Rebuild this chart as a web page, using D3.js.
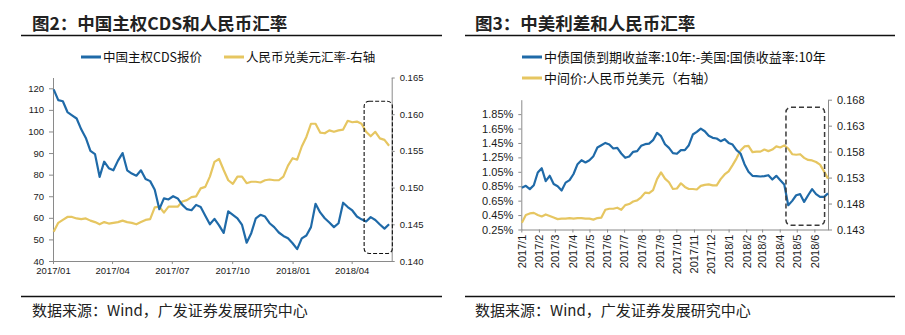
<!DOCTYPE html>
<html>
<head>
<meta charset="utf-8">
<script src="https://cdn.jsdelivr.net/npm/d3@7/dist/d3.min.js"></script>
<style>
  body { margin: 0; background: #fff; }
  svg { display: block; font-family: "Liberation Sans", Arial, sans-serif; }
  .cn { font-family: "Noto Sans CJK SC", sans-serif; }
  .axis path, .axis line { stroke: #8a8a8a; }
  .axis text { fill: #1a1a1a; }
</style>
</head>
<body>
<script>
// ---- 图2 data (weekly samples from 2017-01-02) ----
const leftStart = "2017-01-02";
const stepDays = 7;
const cdsQuote = [
  119.5, 114.5, 114, 109, 107.5, 106, 101, 97, 91, 89.5,
  79, 86, 83, 82, 86.5, 90, 82, 80.5, 79.5, 82,
  78, 77, 73, 64, 69, 68.5, 70, 69, 66, 64,
  63.5, 66, 65, 61, 57, 59.5, 56.5, 53, 63, 61.4,
  59.8, 56.7, 48.5, 52.9, 59.8, 61.4, 60.6, 57.5, 55.7, 53.2,
  51.6, 50.5, 48.2, 45.5, 50.5, 51.8, 55.7, 66.5, 62.5, 59.8,
  57.8, 55.7, 57.5, 67, 65, 63.4, 60.6, 59.3, 58.3, 60.3,
  59, 56.9, 55, 57
];
const cnyLeft = [
  0.1440, 0.1452, 0.1456, 0.1460, 0.1460, 0.1458, 0.1457, 0.1458, 0.1455, 0.1453,
  0.1450, 0.1453, 0.1451, 0.1452, 0.1453, 0.1455, 0.1453, 0.1452, 0.1450, 0.1453,
  0.1456, 0.1457, 0.1473, 0.1474, 0.1466, 0.1474, 0.1474, 0.1474, 0.1481, 0.1483,
  0.1487, 0.1488, 0.1499, 0.1501, 0.1515, 0.1535, 0.1539, 0.1524, 0.1510, 0.1505,
  0.1515, 0.1515, 0.1506, 0.1508, 0.1508, 0.1507, 0.1510, 0.1511, 0.1510, 0.1510,
  0.1515, 0.1530, 0.1540, 0.1538, 0.1556, 0.1569, 0.1587, 0.1587, 0.1575, 0.1574,
  0.1578, 0.1576, 0.1578, 0.1579, 0.1591, 0.1589, 0.1590, 0.1587, 0.1576, 0.1570,
  0.1576, 0.1567, 0.1565, 0.1557
];
const leftXTicks = ["2017-01-01", "2017-04-01", "2017-07-01", "2017-10-01", "2018-01-01", "2018-04-01"];
const leftYTicks = [40, 50, 60, 70, 80, 90, 100, 110, 120];
const leftY2Ticks = [0.140, 0.145, 0.150, 0.155, 0.160, 0.165];
const leftBox = ["2018-04-20", "2018-06-02", 114, 43.5];

// ---- 图3 data (weekly samples from 2017-01-02) ----
const rightStart = "2017-01-02";
const yieldSpread = [
  0.83, 0.855, 0.81, 0.864, 1.04, 1.10, 0.92, 0.995, 0.88, 0.85,
  0.79, 0.90, 0.934, 1.02, 1.156, 1.211, 1.18, 1.211, 1.267, 1.387,
  1.419, 1.451, 1.428, 1.373, 1.382, 1.304, 1.244, 1.262, 1.327, 1.336,
  1.41, 1.433, 1.442, 1.489, 1.59, 1.544, 1.433, 1.382, 1.31, 1.30,
  1.35, 1.35, 1.419, 1.567, 1.604, 1.65, 1.613, 1.549, 1.521, 1.512,
  1.475, 1.503, 1.451, 1.428, 1.35, 1.304, 1.156, 1.05, 0.994, 0.99,
  0.985, 0.99, 1.003, 0.943, 0.994, 0.934, 0.874, 0.587, 0.647, 0.725,
  0.74, 0.633, 0.725, 0.81, 0.74, 0.702, 0.702, 0.75
];
const cnyRight = [
  0.1443, 0.1458, 0.1461, 0.1462, 0.1458, 0.1455, 0.1459, 0.1456, 0.1453, 0.1450,
  0.1451, 0.1451, 0.1452, 0.1451, 0.1452, 0.1452, 0.1451, 0.1451, 0.1449, 0.1452,
  0.1453, 0.1468, 0.1470, 0.1470, 0.1472, 0.1468, 0.1477, 0.1479, 0.1484, 0.1486,
  0.1492, 0.1501, 0.1500, 0.1506, 0.1527, 0.1540, 0.1528, 0.1521, 0.1508, 0.1509,
  0.1519, 0.1512, 0.1508, 0.1508, 0.1507, 0.1514, 0.1516, 0.1517, 0.1515, 0.1515,
  0.1527, 0.1536, 0.1542, 0.1554, 0.1567, 0.1582, 0.1590, 0.1591, 0.1579, 0.1580,
  0.1580, 0.1584, 0.1581, 0.1584, 0.1590, 0.1588, 0.1592, 0.1586, 0.1575, 0.1574,
  0.1575, 0.1568, 0.1564, 0.1563, 0.1560, 0.1555, 0.1542, 0.1528
];
const rightXTicks = [
  "2017-01-01", "2017-02-01", "2017-03-01", "2017-04-01", "2017-05-01", "2017-06-01",
  "2017-07-01", "2017-08-01", "2017-09-01", "2017-10-01", "2017-11-01", "2017-12-01",
  "2018-01-01", "2018-02-01", "2018-03-01", "2018-04-01", "2018-05-01", "2018-06-01"
];
const rightYTicks = [0.25, 0.45, 0.65, 0.85, 1.05, 1.25, 1.45, 1.65, 1.85];
const rightY2Ticks = [0.143, 0.148, 0.153, 0.158, 0.163, 0.168];
const rightBox = ["2018-04-12", "2018-06-19", 1.945, 0.308];

const blue = "#1f6aa8";
const gold = "#e6c661";
const parse = d3.timeParse("%Y-%m-%d");
const dateAt = (start, i) => d3.timeDay.offset(parse(start), i * stepDays);

const svg = d3.select("body").append("svg").attr("width", 905).attr("height", 335);
svg.append("rect").attr("width", 905).attr("height", 335).attr("fill", "#fff");

function frame(x0, x1, titleX, title) {
  svg.append("text").attr("class", "cn").attr("x", titleX).attr("y", 29.5)
    .attr("font-size", 17.5).attr("font-weight", "bold").attr("fill", "#222")
    .text(title);
  svg.append("line").attr("x1", x0).attr("x2", x1).attr("y1", 35.5).attr("y2", 35.5)
    .attr("stroke", "#111").attr("stroke-width", 1.5);
  svg.append("line").attr("x1", x0).attr("x2", x1).attr("y1", 296.5).attr("y2", 296.5)
    .attr("stroke", "#111").attr("stroke-width", 1.5);
  svg.append("text").attr("class", "cn").attr("x", titleX).attr("y", 315.5)
    .attr("font-size", 15).attr("fill", "#222")
    .text("数据来源：Wind，广发证券发展研究中心");
}

function legendItem(x, y, color, label, size) {
  svg.append("line").attr("x1", x).attr("x2", x + 20).attr("y1", y).attr("y2", y)
    .attr("stroke", color).attr("stroke-width", 3);
  svg.append("text").attr("class", "cn").attr("x", x + 22).attr("y", y + 4.5)
    .attr("font-size", size).attr("fill", "#111").text(label);
}

function series(values, start, x, y, color) {
  const line = d3.line()
    .x((d, i) => x(dateAt(start, i)))
    .y(d => y(d));
  svg.append("path").datum(values).attr("d", line)
    .attr("fill", "none").attr("stroke", color).attr("stroke-width", 2.2)
    .attr("stroke-linejoin", "round");
}

function box(b, x, y, dash, width, color) {
  const bx0 = x(parse(b[0])), bx1 = x(parse(b[1]));
  const by0 = y(b[2]), by1 = y(b[3]);
  svg.append("rect").attr("x", bx0).attr("y", by0)
    .attr("width", bx1 - bx0).attr("height", by1 - by0)
    .attr("rx", 5).attr("fill", "none").attr("stroke", color)
    .attr("stroke-width", width).attr("stroke-dasharray", dash);
}

// ================= 图2 =================
frame(21, 442, 32, "图2：中国主权CDS和人民币汇率");
legendItem(81, 57, blue, "中国主权CDS报价", 12.5);
legendItem(224, 57, gold, "人民币兑美元汇率-右轴", 12.5);

const xA = d3.scaleTime().domain([parse("2017-01-01"), parse("2018-06-01")]).range([53, 391.7]);
const yA = d3.scaleLinear().domain([40, 125]).range([261, 77.5]);
const yA2 = d3.scaleLinear().domain([0.140, 0.165]).range([261, 77.5]);

svg.append("g").attr("class", "axis").attr("transform", "translate(0,261)")
  .call(d3.axisBottom(xA).tickValues(leftXTicks.map(parse))
    .tickFormat(d3.timeFormat("%Y/%m")).tickSize(3).tickSizeOuter(0))
  .attr("font-size", 9.5);
svg.append("g").attr("class", "axis").attr("transform", "translate(53,0)")
  .call(d3.axisLeft(yA).tickValues(leftYTicks).tickSize(4).tickPadding(5).tickSizeOuter(0))
  .attr("font-size", 9.5);
svg.append("g").attr("class", "axis").attr("transform", "translate(391.7,0)")
  .call(d3.axisRight(yA2).tickValues(leftY2Ticks).tickFormat(d3.format(".3f"))
    .tickSize(3).tickPadding(5).tickSizeOuter(0))
  .attr("font-size", 9.5);

series(cnyLeft, leftStart, xA, yA2, gold);
series(cdsQuote, leftStart, xA, yA, blue);
box(leftBox, xA, yA, "4,2", 1.1, "#111");

// ================= 图3 =================
frame(465, 895, 475, "图3：中美利差和人民币汇率");
legendItem(522, 57, blue, "中债国债到期收益率:10年:-美国:国债收益率:10年", 13);
legendItem(522, 78, gold, "中间价:人民币兑美元（右轴）", 13);

const xB = d3.scaleTime().domain([parse("2017-01-01"), parse("2018-06-25")]).range([521.3, 828]);
const yB = d3.scaleLinear().domain([0.25, 2.05]).range([229.5, 99.7]);
const yB2 = d3.scaleLinear().domain([0.143, 0.168]).range([229.5, 99.7]);

const gx = svg.append("g").attr("class", "axis").attr("transform", "translate(0,229.5)")
  .call(d3.axisBottom(xB).tickValues(rightXTicks.map(parse))
    .tickFormat(d3.timeFormat("%Y/%-m")).tickSize(3).tickSizeOuter(0))
  .attr("font-size", 11);
gx.selectAll(".tick text")
  .attr("transform", "rotate(-90)").attr("text-anchor", "end")
  .attr("x", -5).attr("y", 0).attr("dy", "0.35em");
svg.append("g").attr("class", "axis").attr("transform", "translate(521.3,0)")
  .call(d3.axisLeft(yB).tickValues(rightYTicks).tickFormat(d => d.toFixed(2) + "%")
    .tickSize(3).tickPadding(5).tickSizeOuter(0))
  .attr("font-size", 11);
svg.append("g").attr("class", "axis").attr("transform", "translate(828,0)")
  .call(d3.axisRight(yB2).tickValues(rightY2Ticks).tickFormat(d3.format(".3f"))
    .tickSize(4).tickPadding(5).tickSizeOuter(0))
  .attr("font-size", 11);

series(cnyRight, rightStart, xB, yB2, gold);
series(yieldSpread, rightStart, xB, yB, blue);
box(rightBox, xB, yB, "5,3", 1.5, "#3a3a3a");
</script>
</body>
</html>
